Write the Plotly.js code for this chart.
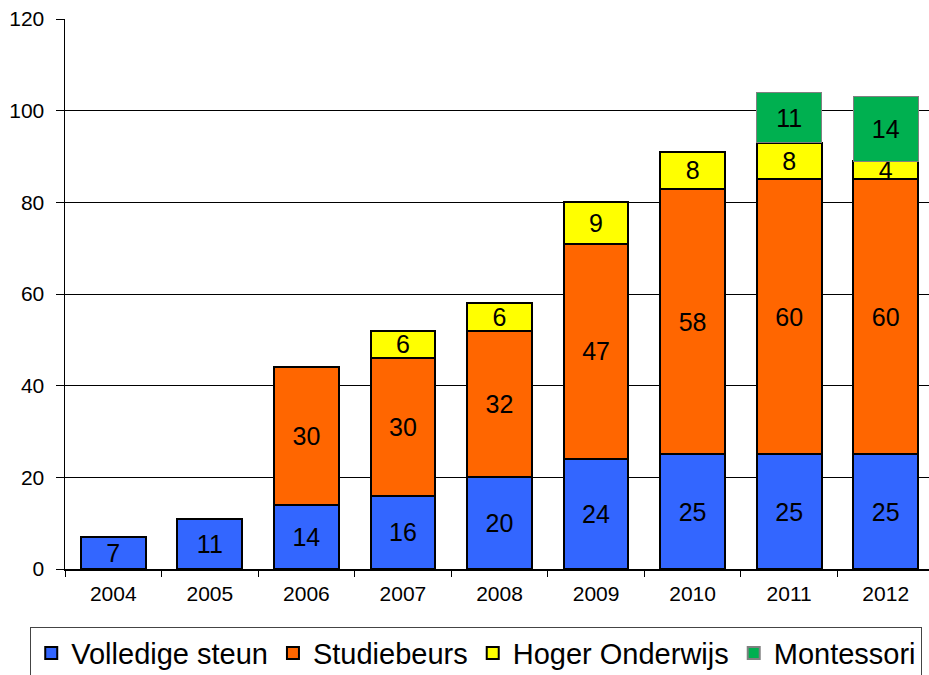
<!DOCTYPE html>
<html>
<head>
<meta charset="utf-8">
<script src="https://cdn.plot.ly/plotly-3.0.1.min.js"></script>
<style>
html,body{margin:0;padding:0;overflow:hidden;background:#fff;}
#wrap{width:929px;height:675px;overflow:hidden;}
#chart{width:940px;height:710px;}
</style>
</head>
<body>
<div id="wrap"><div id="chart"></div></div>
<script>
const years = ['2004','2005','2006','2007','2008','2009','2010','2011','2012'];
const volledigeSteun = [7, 11, 14, 16, 20, 24, 25, 25, 25];
const studiebeurs = [null, null, 30, 30, 32, 47, 58, 60, 60];
const hogerOnderwijs = [null, null, null, 6, 6, 9, 8, 8, 4];
const montessori = [null, null, null, null, null, null, null, 11, 14];
const seriesNames = ['Volledige steun', 'Studiebeurs', 'Hoger Onderwijs', 'Montessori'];
const seriesColors = ['#3366FF', '#FF6600', '#FFFF00', '#00B050'];
const seriesLines = ['#000000', '#000000', '#000000', '#808080'];
const seriesLineWidths = [2, 2, 2, 1];

const values = [volledigeSteun, studiebeurs, hogerOnderwijs, montessori];
const font = 'Liberation Sans, Arial, sans-serif';

const traces = values.map((v, i) => ({
  type: 'bar',
  name: seriesNames[i],
  x: years,
  y: v,
  marker: {color: seriesColors[i], line: {color: seriesLines[i], width: seriesLineWidths[i]}},
  text: v.map(d => d == null ? '' : String(d)),
  texttemplate: '%{text}',
  textposition: 'inside',
  insidetextanchor: 'middle',
  textangle: 0,
  constraintext: 'none',
  textfont: {family: font, size: 25, color: '#000'},
  hoverinfo: 'x+y+name'
}));

const layout = {
  width: 940,
  height: 710,
  barmode: 'stack',
  bargap: 0.33,
  margin: {l: 65, r: 6, t: 19, b: 141},
  paper_bgcolor: '#fff',
  plot_bgcolor: '#fff',
  font: {family: font, color: '#000'},
  showlegend: true,
  legend: {
    orientation: 'h',
    x: -0.04, xanchor: 'left',
    y: -0.105, yanchor: 'top',
    bordercolor: '#444', borderwidth: 1,
    font: {family: font, size: 29, color: '#000'},
    traceorder: 'normal',
    itemsizing: 'constant'
  },
  xaxis: {
    type: 'category',
    showline: true, linecolor: '#000', linewidth: 1.5,
    ticks: 'outside', tickson: 'boundaries', ticklen: 6, tickcolor: '#000',
    tickfont: {family: font, size: 21, color: '#000'},
    ticklabelstandoff: 5,
    showgrid: false, zeroline: false
  },
  yaxis: {
    range: [0, 120],
    tickvals: [0, 20, 40, 60, 80, 100, 120],
    showline: true, linecolor: '#000', linewidth: 1.5,
    ticks: 'outside', ticklen: 8, tickcolor: '#000',
    tickfont: {family: font, size: 21, color: '#000'},
    ticklabelstandoff: 7,
    showgrid: true, gridcolor: '#000', gridwidth: 1,
    zeroline: false
  }
};

Plotly.newPlot('chart', traces, layout, {displayModeBar: false, staticPlot: true});
</script>
</body>
</html>
